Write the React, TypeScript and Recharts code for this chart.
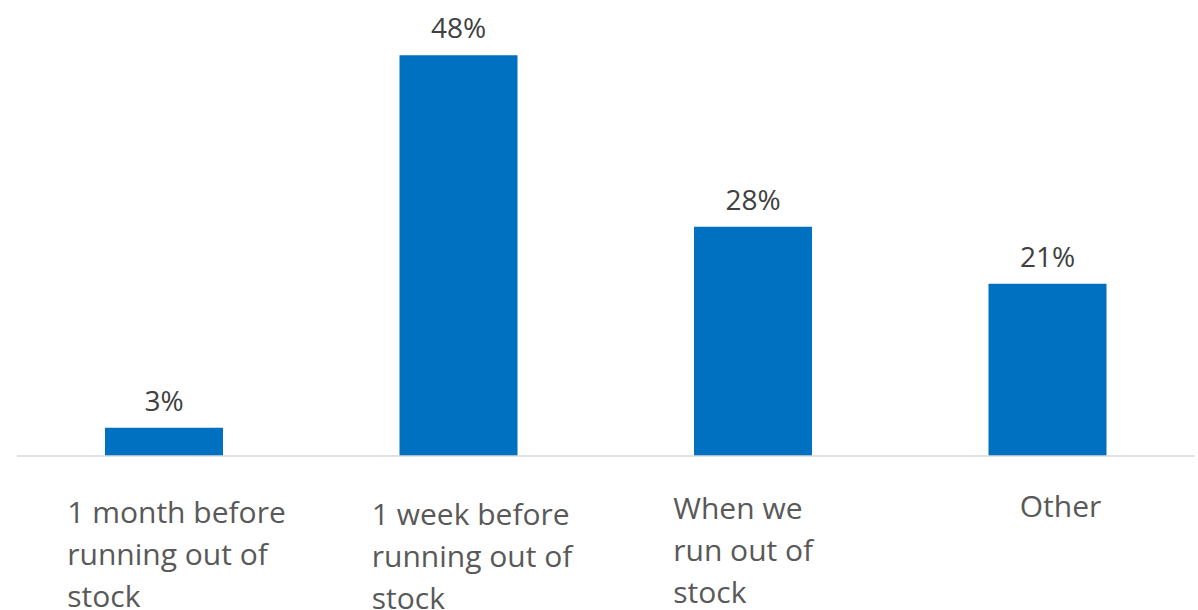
import React from "react";
import { BarChart, Bar, XAxis, YAxis, LabelList } from "recharts";

const categories = [
  "1 month before\nrunning out of\nstock",
  "1 week before\nrunning out of\nstock",
  "When we\nrun out of\nstock",
  "Other",
];
const shares = [3.4, 48.4, 27.7, 20.8];
const shareLabels = ["3%", "48%", "28%", "21%"];

const data = categories.map((c, i) => ({ category: c, share: shares[i], label: shareLabels[i] }));

const FONT = "'Open Sans', Calibri, sans-serif";
const TICK_DX = [-97, -87, -80, -28];
const TICK_DY = [67, 69, 63, 61];

const CategoryTick = (props: any) => {
  const { x, y, payload, index } = props;
  const lines = String(payload.value).split("\n");
  return (
    <text
      x={x + TICK_DX[index]}
      y={y + TICK_DY[index]}
      fill="#595959"
      fontFamily={FONT}
      fontSize={30}
      textAnchor="start"
    >
      {lines.map((l, i) => (
        <tspan key={i} x={x + TICK_DX[index]} dy={i === 0 ? 0 : 42}>
          {l}
        </tspan>
      ))}
    </text>
  );
};

const ValueLabel = (props: any) => {
  const { x, y, width, index } = props;
  return (
    <text
      x={x + width / 2}
      y={y - 17}
      fill="#404040"
      fontFamily={FONT}
      fontSize={28}
      textAnchor="middle"
    >
      {shareLabels[index]}
    </text>
  );
};

export default function App() {
  return (
    <div style={{ position: "absolute", left: 0, top: 0, background: "#fff" }}>
      <BarChart
        width={1198}
        height={610}
        data={data}
        margin={{ top: 42, right: 3, bottom: 0, left: 17 }}
      >
        <XAxis
          dataKey="category"
          axisLine={{ stroke: "#D9D9D9", strokeWidth: 1.5 }}
          tickLine={false}
          tickSize={0}
          tickMargin={0}
          height={154}
          interval={0}
          tick={<CategoryTick />}
        />
        <YAxis hide domain={[0, 50]} />
        <Bar dataKey="share" fill="#0070C0" barSize={118} isAnimationActive={false}>
          <LabelList dataKey="label" content={<ValueLabel />} />
        </Bar>
      </BarChart>
    </div>
  );
}
